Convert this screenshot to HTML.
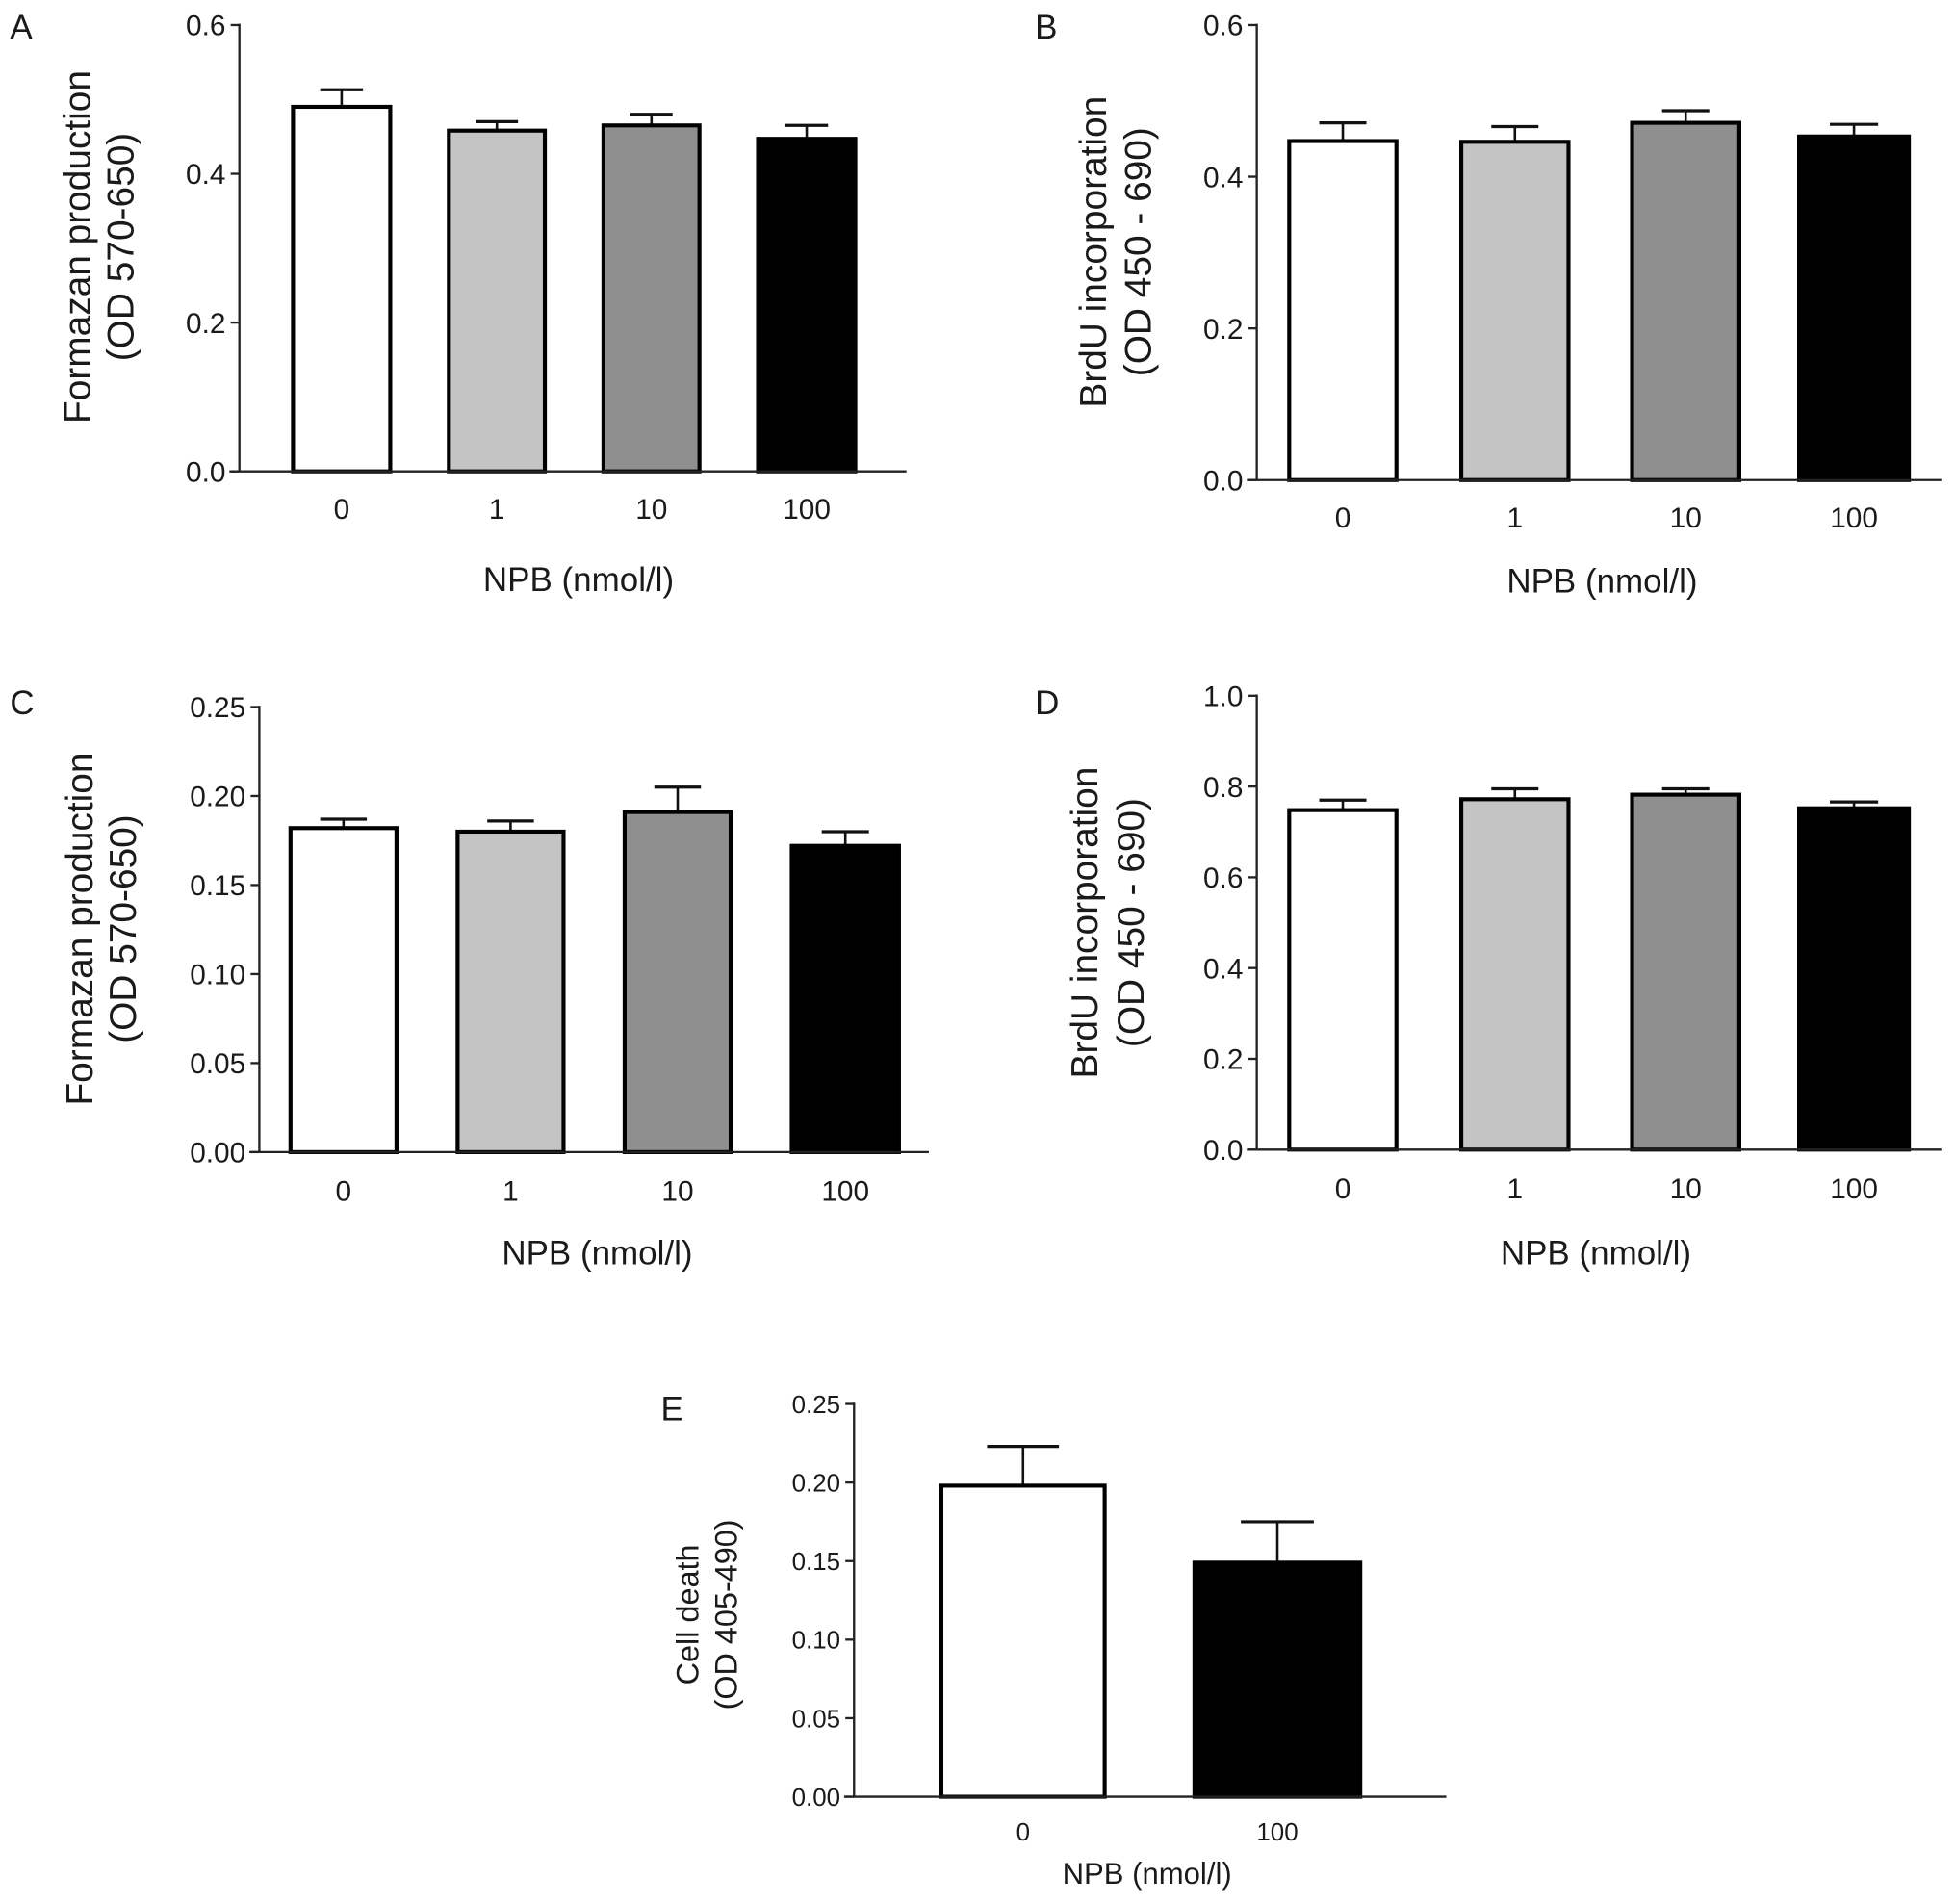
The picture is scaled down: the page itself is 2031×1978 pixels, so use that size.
<!DOCTYPE html>
<html><head><meta charset="utf-8"><style>
html,body{margin:0;padding:0;background:#fff}
svg{display:block}
text{font-family:"Liberation Sans",sans-serif;fill:#1a1a1a}
.tick{font-family:"Liberation Sans Narrow","Liberation Sans",sans-serif}
</style></head><body>
<svg id="fig" width="2031" height="1978" viewBox="0 0 1568 1527" xmlns="http://www.w3.org/2000/svg"></svg>
<script>
// Data
const categoriesABCD = ["0", "1", "10", "100"];
const categoriesE = ["0", "100"];
const valuesA = [0.490, 0.458, 0.465, 0.447];
const errA = [0.023, 0.012, 0.015, 0.018];
const valuesB = [0.447, 0.446, 0.471, 0.453];
const errB = [0.024, 0.020, 0.016, 0.016];
const valuesC = [0.182, 0.180, 0.191, 0.172];
const errC = [0.005, 0.006, 0.014, 0.008];
const valuesD = [0.748, 0.772, 0.782, 0.752];
const errD = [0.022, 0.023, 0.013, 0.014];
const valuesE = [0.198, 0.149];
const errE = [0.025, 0.026];
const ticksA = [0.0, 0.2, 0.4, 0.6];
const ticksB = [0.0, 0.2, 0.4, 0.6];
const ticksC = [0.00, 0.05, 0.10, 0.15, 0.20, 0.25];
const ticksD = [0.0, 0.2, 0.4, 0.6, 0.8, 1.0];
const ticksE = [0.00, 0.05, 0.10, 0.15, 0.20, 0.25];
const fills4 = ["#ffffff", "#c4c4c4", "#8f8f8f", "#000000"];
const fills2 = ["#ffffff", "#000000"];

const NS = "http://www.w3.org/2000/svg";
const svg = document.getElementById("fig");
function mk(tag, attrs, parent, txt) {
  const e = document.createElementNS(NS, tag);
  for (const k in attrs) e.setAttribute(k, attrs[k]);
  if (txt !== undefined) e.textContent = txt;
  (parent || svg).appendChild(e);
  return e;
}

function panel(p) {
  const g = mk("g", {});
  
  
  const y = v => p.y0 - (v / p.ymax) * (p.y0 - p.ytop);
  const fs = p.fs || 23;
  const L = mk("text", {x: p.lx, y: p.ly, "font-size": 27, fill: "#111"}, g, p.id);
  
  
  p.vals.forEach((v, i) => {
    const x0 = p.barX[i][0], x1 = p.barX[i][1], xc = (x0 + x1) / 2, w = x1 - x0;
    const top = y(v), et = y(v + p.errs[i]);
    const eb = mk("line", {x1: xc, x2: xc, y1: top, y2: et, stroke: "#111", "stroke-width": 2}, g);
    
    
    const cap = mk("line", {x1: xc - w * 0.22, x2: xc + w * 0.22, y1: et, y2: et, stroke: "#111", "stroke-width": 2.5}, g);
    
    
    const r = mk("rect", {x: x0, y: top, width: w, height: p.y0 - top, fill: p.fills[i], stroke: "#000", "stroke-width": 3.2}, g);
    
    
    const t = mk("text", {x: xc, y: p.xly, "font-size": fs, "text-anchor": "middle", class: "tick"}, g, p.cats[i]);
    
    
  });
  const ya = mk("line", {x1: p.ax, x2: p.ax, y1: p.ytop - 1, y2: p.y0, stroke: "#222", "stroke-width": 1.8}, g);
  
  
  const xa = mk("line", {x1: p.ax - 8, x2: p.xend, y1: p.y0, y2: p.y0, stroke: "#222", "stroke-width": 1.8}, g);
  
  
  p.ticks.forEach(tv => {
    const ty = y(tv);
    const tl = mk("line", {x1: p.ax - 7, x2: p.ax, y1: ty, y2: ty, stroke: "#222", "stroke-width": 1.8}, g);
    
    
    const tt = mk("text", {x: p.ax - 11, y: ty + fs * 0.36, "font-size": fs, "text-anchor": "end", class: "tick"}, g, tv.toFixed(p.dec));
    
    
  });
  const xt = mk("text", {x: p.xtx, y: p.xty, "font-size": p.xfs || 27, "text-anchor": "middle"}, g, "NPB (nmol/l)");
  
  
  const yt = mk("text", {transform: `translate(${p.ytx},${p.ytc}) rotate(-90)`, "font-size": p.yfs || 30, "text-anchor": "middle"}, g);
  
  
  mk("tspan", {x: 0, y: 0}, yt, p.yt1);
  mk("tspan", {x: 0, dy: p.ytdy}, yt, p.yt2);
}

panel({id:"A", lx:8, ly:31, vals:valuesA, errs:errA, cats:categoriesABCD, fills:fills4, ticks:ticksA, dec:1,
  ax:192, ytop:20, y0:378, ymax:0.6, xend:727,
  barX:[[235,313],[360,437],[484,561],[608,686]], xly:416, xtx:464, xty:474,
  yt1:"Formazan production", yt2:"(OD 570-650)", ytx:72, ytc:198, ytdy:35});
panel({id:"B", lx:830, ly:31, vals:valuesB, errs:errB, cats:categoriesABCD, fills:fills4, ticks:ticksB, dec:1,
  ax:1008, ytop:20, y0:385, ymax:0.6, xend:1557,
  barX:[[1034,1120],[1172,1258],[1309,1395],[1443,1531]], xly:423, xtx:1285, xty:475,
  yt1:"BrdU incorporation", yt2:"(OD 450 - 690)", ytx:887, ytc:202, ytdy:36});
panel({id:"C", lx:8, ly:573, vals:valuesC, errs:errC, cats:categoriesABCD, fills:fills4, ticks:ticksC, dec:2,
  ax:208, ytop:567, y0:924, ymax:0.25, xend:745,
  barX:[[233,318],[367,452],[501,586],[635,721]], xly:963, xtx:479, xty:1014,
  yt1:"Formazan production", yt2:"(OD 570-650)", ytx:74, ytc:745, ytdy:35});
panel({id:"D", lx:830, ly:573, vals:valuesD, errs:errD, cats:categoriesABCD, fills:fills4, ticks:ticksD, dec:1,
  ax:1008, ytop:558, y0:922, ymax:1.0, xend:1557,
  barX:[[1034,1120],[1172,1258],[1309,1395],[1443,1531]], xly:961, xtx:1280, xty:1014,
  yt1:"BrdU incorporation", yt2:"(OD 450 - 690)", ytx:880, ytc:740, ytdy:37});
panel({id:"E", lx:530, ly:1139, vals:valuesE, errs:errE, cats:categoriesE, fills:fills2, ticks:ticksE, dec:2,
  ax:685, ytop:1126, y0:1441, ymax:0.25, xend:1160, fs:20, xfs:24, yfs:25,
  barX:[[755,886],[958,1091]], xly:1476, xtx:920, xty:1511,
  yt1:"Cell death", yt2:"(OD 405-490)", ytx:560, ytc:1295, ytdy:31});
</script>
</body></html>
